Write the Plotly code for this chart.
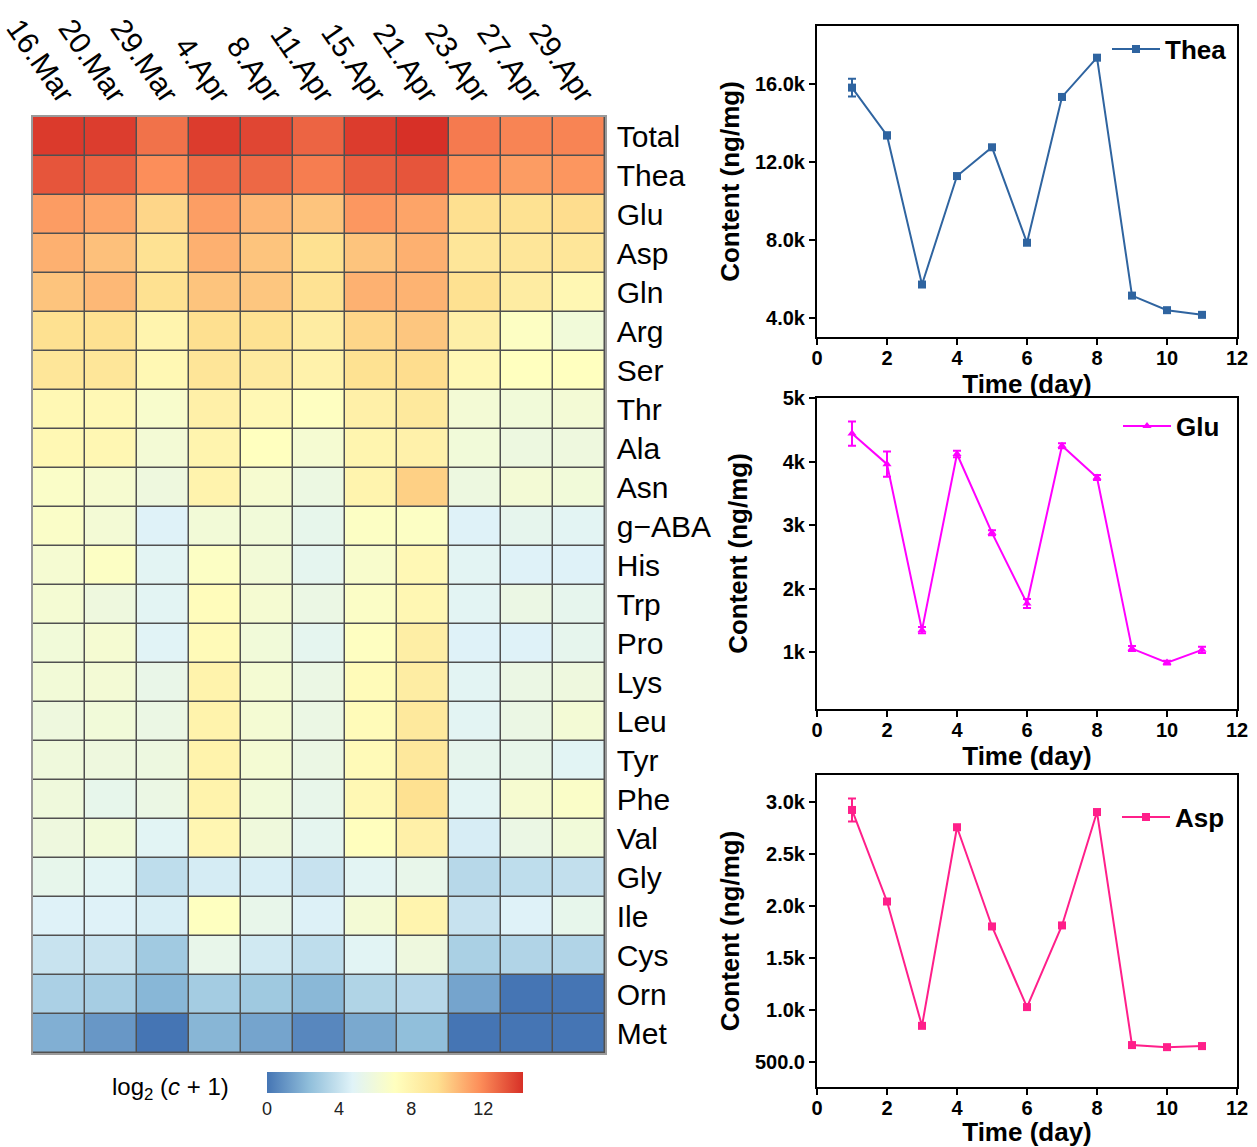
import plotly.graph_objects as go

# ---------------- data ----------------
sample_dates = ["16.Mar", "20.Mar", "29.Mar", "4.Apr", "8.Apr", "11.Apr",
                "15.Apr", "21.Apr", "23.Apr", "27.Apr", "29.Apr"]
amino_acids = ["Total", "Thea", "Glu", "Asp", "Gln", "Arg", "Ser", "Thr", "Ala",
               "Asn", "g\u2212ABA", "His", "Trp", "Pro", "Lys", "Leu", "Tyr",
               "Phe", "Val", "Gly", "Ile", "Cys", "Orn", "Met"]
# log2(c + 1) values (rows = amino acids, cols = dates)
log_values = [
    [13.95, 13.87, 12.52, 13.90, 13.64, 12.87, 13.90, 14.20, 12.31, 12.06, 12.06],  # Total
    [13.26, 12.95, 11.80, 12.72, 12.77, 12.24, 13.05, 13.26, 11.74, 11.40, 11.57],  # Thea
    [11.40, 11.15, 9.75, 11.35, 10.66, 10.27, 11.55, 11.18, 9.47, 9.35, 9.55],      # Glu
    [10.83, 10.38, 9.30, 10.83, 10.27, 9.40, 10.27, 10.83, 9.00, 9.00, 9.00],       # Asp
    [10.27, 10.60, 9.40, 10.27, 10.20, 9.30, 10.80, 10.75, 9.40, 8.55, 7.70],       # Gln
    [9.40, 9.40, 7.95, 9.45, 9.35, 8.55, 9.75, 10.20, 8.32, 6.95, 6.03],            # Arg
    [9.00, 9.00, 7.65, 9.05, 8.70, 8.10, 9.35, 9.55, 7.60, 7.10, 7.10],             # Ser
    [7.65, 7.60, 6.56, 8.25, 7.60, 7.00, 8.25, 8.80, 6.18, 6.03, 6.18],             # Thr
    [7.65, 7.70, 6.18, 7.95, 7.12, 6.33, 7.90, 8.15, 6.03, 5.73, 5.80],             # Ala
    [6.72, 6.40, 5.80, 8.00, 6.40, 5.65, 7.95, 9.92, 5.73, 6.18, 6.03],             # Asn
    [6.72, 6.18, 4.70, 6.10, 6.03, 5.26, 6.90, 6.90, 4.70, 5.20, 4.95],             # g-ABA
    [6.33, 6.90, 4.95, 6.90, 6.10, 5.10, 6.56, 7.60, 4.95, 4.70, 4.70],             # His
    [6.26, 5.80, 4.95, 7.30, 6.33, 5.57, 6.80, 7.70, 4.95, 5.57, 5.20],             # Trp
    [6.03, 6.33, 4.80, 7.45, 6.03, 5.10, 7.00, 8.40, 4.70, 4.70, 5.20],             # Pro
    [6.10, 6.18, 5.40, 8.05, 6.26, 5.57, 7.40, 8.50, 4.95, 5.57, 5.80],             # Lys
    [5.80, 6.03, 5.57, 8.05, 6.26, 5.57, 7.42, 8.80, 4.95, 5.57, 6.18],             # Leu
    [5.88, 5.80, 5.73, 8.05, 6.26, 5.57, 7.45, 8.85, 5.20, 5.33, 4.88],             # Tyr
    [5.88, 5.26, 5.57, 8.05, 6.03, 5.33, 7.65, 9.40, 4.95, 6.40, 6.72],             # Phe
    [5.80, 6.03, 4.88, 7.75, 5.88, 5.10, 7.15, 8.25, 4.46, 5.57, 6.03],             # Val
    [5.26, 4.88, 3.72, 4.40, 4.50, 3.98, 4.95, 5.33, 3.50, 3.72, 3.84],             # Gly
    [4.70, 4.70, 4.50, 7.05, 5.33, 4.64, 6.18, 7.95, 3.98, 4.70, 5.26],             # Ile
    [4.00, 4.00, 2.85, 5.33, 4.26, 3.72, 4.88, 5.80, 3.12, 3.33, 3.33],             # Cys
    [3.15, 3.00, 2.10, 2.94, 2.80, 2.15, 3.30, 3.47, 1.50, 0.00, 0.00],             # Orn
    [1.87, 1.09, 0.00, 2.09, 1.50, 0.59, 1.65, 2.37, 0.00, 0.00, 0.00],             # Met
]
color_ticks = [0, 4, 8, 12]

days = [1, 2, 3, 4, 5, 6, 7, 8, 9, 10, 11]
thea_content = [15830, 13370, 5700, 11280, 12760, 7850, 15350, 17370, 5130, 4380, 4140]
thea_error = [460, 150, 120, 100, 80, 100, 100, 100, 90, 80, 90]
glu_content = [4440, 3960, 1350, 4120, 2880, 1770, 4250, 3750, 1060, 840, 1040]
glu_error = [190, 200, 50, 50, 40, 70, 40, 40, 40, 30, 50]
asp_content = [2920, 2040, 845, 2754, 1800, 1025, 1810, 2900, 660, 640, 650]
asp_error = [110, 20, 20, 20, 20, 20, 20, 20, 20, 15, 25]

thea_ticks = [4000, 8000, 12000, 16000]
thea_ticktext = ["4.0k", "8.0k", "12.0k", "16.0k"]
glu_ticks = [1000, 2000, 3000, 4000, 5000]
glu_ticktext = ["1k", "2k", "3k", "4k", "5k"]
asp_ticks = [500, 1000, 1500, 2000, 2500, 3000]
asp_ticktext = ["500.0", "1.0k", "1.5k", "2.0k", "2.5k", "3.0k"]
day_ticks = [0, 2, 4, 6, 8, 10, 12]

# ---------------- figure ----------------
W, H = 1257, 1147
FONT = "Arial, Liberation Sans, sans-serif"

def px_x(p):
    return p / W

def px_y(p):
    return 1 - p / H

rdylbu7 = [[0, "#4575B4"], [1/6, "#91BFDB"], [2/6, "#E0F3F8"], [3/6, "#FFFFBF"],
           [4/6, "#FEE090"], [5/6, "#FC8D59"], [1, "#D73027"]]

fig = go.Figure()

fig.add_trace(go.Heatmap(
    z=log_values, x=sample_dates, y=amino_acids,
    colorscale=rdylbu7, zmin=0, zmax=14.2,
    xgap=1.5, ygap=1.5,
    xaxis="x", yaxis="y",
    hoverinfo="skip",
    colorbar=dict(orientation="h", x=px_x(395), xanchor="center",
                  y=px_y(1072), yanchor="top", len=256, lenmode="pixels",
                  thickness=21, thicknessmode="pixels", tickvals=color_ticks,
                  tickfont=dict(size=18, color="#222", family=FONT),
                  outlinewidth=0, ticks="", xpad=0, ypad=0),
))

series = [
    ("Thea", thea_content, thea_error, "#2f64a0", "square", "x2", "y2", "legend"),
    ("Glu", glu_content, glu_error, "#ff00ff", "triangle-up", "x3", "y3", "legend2"),
    ("Asp", asp_content, asp_error, "#ff1f8a", "square", "x4", "y4", "legend3"),
]
for name, vals, errs, col, sym, xa, ya, lg in series:
    fig.add_trace(go.Scatter(
        x=days, y=vals, name=name, mode="lines+markers",
        line=dict(color=col, width=2),
        marker=dict(symbol=sym, size=8, color=col),
        error_y=dict(type="data", array=errs, visible=True, color=col,
                     thickness=2, width=4),
        xaxis=xa, yaxis=ya, legend=lg,
    ))

# heatmap background for grid lines
fig.add_shape(type="rect", xref="x domain", yref="y domain", x0=0, x1=1, y0=0, y1=1,
              fillcolor="#505050", line=dict(width=0), layer="below")

heat_font = dict(family=FONT, size=30, color="black")
layout = dict(
    width=W, height=H, margin=dict(l=0, r=0, t=0, b=0, autoexpand=False),
    paper_bgcolor="white", plot_bgcolor="white",
    font=dict(family=FONT, color="black"),
    xaxis=dict(domain=[px_x(33), px_x(605)], anchor="y", side="top",
               tickangle=55, tickfont=heat_font, ticks="", showgrid=False,
               showline=True, mirror=True, linecolor="#9a9a9a", linewidth=1.5,
               ticklabelshift=12, ticklabelstandoff=-8,
               zeroline=False, automargin=False),
    yaxis=dict(domain=[px_y(1053), px_y(117)], anchor="x", side="right",
               autorange="reversed", tickfont=heat_font, ticks="",
               showgrid=False, showline=True, mirror=True, linecolor="#9a9a9a",
               linewidth=1.5, ticklabelstandoff=4, zeroline=False, automargin=False),
    showlegend=True,
)

plot_boxes = [("x2", "y2", 26, 337, [3000, 19000], thea_ticks, thea_ticktext, 8),
              ("x3", "y3", 398, 709, [110, 5000], glu_ticks, glu_ticktext, 28),
              ("x4", "y4", 775, 1087, [257, 3256], asp_ticks, asp_ticktext, 8)]
tick_font = dict(family=FONT, size=20, color="black", weight="bold")
title_font = dict(family=FONT, size=26, color="black", weight="bold")
for xa, ya, top, bottom, yr, tv, tt, stand in plot_boxes:
    xk = "xaxis" + xa[1:]
    yk = "yaxis" + ya[1:]
    layout[xk] = dict(domain=[px_x(817), px_x(1237)], anchor=ya, range=[0, 12],
                      tickvals=day_ticks, tickfont=tick_font, ticklabelstandoff=-4,
                      title=dict(text="Time (day)", font=title_font, standoff=0),
                      showline=True, mirror=True, linecolor="black", linewidth=2,
                      ticks="outside", ticklen=6, tickwidth=2, tickcolor="black",
                      showgrid=False, zeroline=False, automargin=False)
    layout[yk] = dict(domain=[px_y(bottom), px_y(top)], anchor=xa, range=yr,
                      tickvals=tv, ticktext=tt, tickfont=tick_font,
                      title=dict(text="Content (ng/mg)", font=title_font, standoff=stand),
                      showline=True, mirror=True, linecolor="black", linewidth=2,
                      ticks="outside", ticklen=6, tickwidth=2, tickcolor="black",
                      showgrid=False, zeroline=False, automargin=False)

leg_font = dict(family=FONT, size=26, color="black", weight="bold")
layout["legend"] = dict(x=px_x(1232), xanchor="right", y=px_y(49), yanchor="middle",
                        bgcolor="rgba(0,0,0,0)", font=leg_font, itemwidth=48)
layout["legend2"] = dict(x=px_x(1225), xanchor="right", y=px_y(426), yanchor="middle",
                         bgcolor="rgba(0,0,0,0)", font=leg_font, itemwidth=48)
layout["legend3"] = dict(x=px_x(1230), xanchor="right", y=px_y(817), yanchor="middle",
                         bgcolor="rgba(0,0,0,0)", font=leg_font, itemwidth=48)

fig.update_layout(**layout)

fig.add_annotation(text="log<sub>2</sub> (<i>c</i> + 1)", xref="paper", yref="paper",
                   x=px_x(170), y=px_y(1088), xanchor="center", yanchor="middle",
                   showarrow=False,
                   font=dict(family=FONT, size=24, color="black"))

fig.write_html("out.html")
